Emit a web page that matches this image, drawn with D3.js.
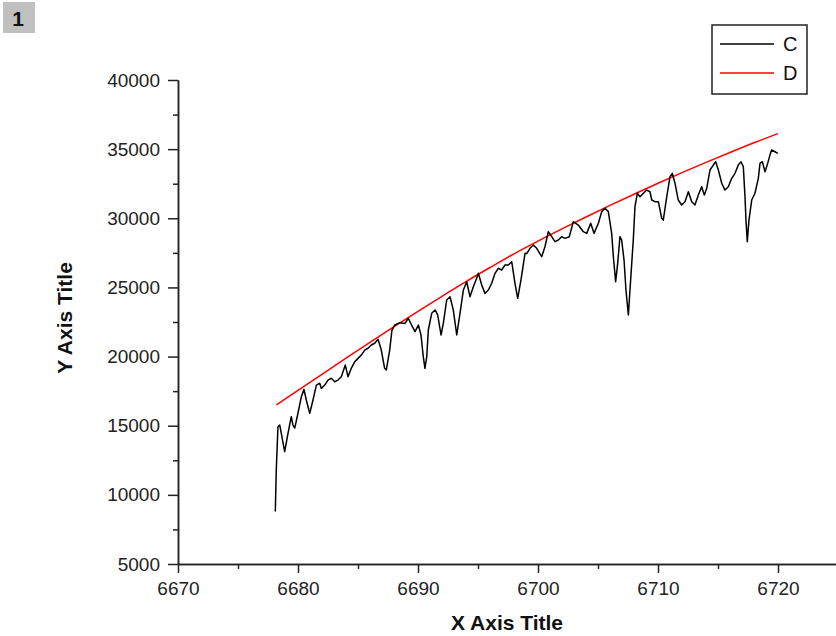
<!DOCTYPE html>
<html>
<head>
<meta charset="utf-8">
<script src="https://cdn.jsdelivr.net/npm/d3@7"></script>
<style>
	body { margin: 0; background: #fff; }
	svg { display: block; font-family: Arial, 'Liberation Sans', sans-serif; }
</style>
</head>
<body>
<div class="svg-container"></div>
<script>
const w = 836;
const h = 636;

// series C (black, measured)
const cX = [6678.11, 6678.19, 6678.33, 6678.48, 6678.89, 6679.17, 6679.44, 6679.58, 6679.73, 6680.0,
	6680.28, 6680.5, 6680.69, 6680.98, 6681.25, 6681.53, 6681.81, 6681.94, 6682.23, 6682.5,
	6682.78, 6683.06, 6683.33, 6683.61, 6683.94, 6684.17, 6684.44, 6684.73, 6685.0, 6685.28,
	6685.56, 6685.83, 6686.11, 6686.39, 6686.67, 6686.94, 6687.22, 6687.36, 6687.64, 6687.83,
	6688.06, 6688.48, 6688.92, 6689.19, 6689.47, 6689.75, 6690.03, 6690.25, 6690.44, 6690.58,
	6690.73, 6690.86, 6691.14, 6691.42, 6691.64, 6691.92, 6692.11, 6692.39, 6692.67, 6692.94,
	6693.23, 6693.5, 6693.78, 6694.06, 6694.33, 6694.61, 6694.89, 6695.03, 6695.31, 6695.58,
	6695.86, 6696.14, 6696.42, 6696.69, 6696.97, 6697.25, 6697.53, 6697.81, 6698.08, 6698.31,
	6698.58, 6698.92, 6699.06, 6699.33, 6699.61, 6699.89, 6700.31, 6700.58, 6700.86, 6701.14,
	6701.42, 6701.69, 6701.97, 6702.25, 6702.61, 6702.94, 6703.36, 6703.78, 6704.06, 6704.39,
	6704.67, 6705.03, 6705.31, 6705.58, 6705.86, 6706.14, 6706.28, 6706.47, 6706.64, 6706.83,
	6706.97, 6707.17, 6707.33, 6707.53, 6707.72, 6707.94, 6708.08, 6708.28, 6708.5, 6708.78,
	6709.06, 6709.33, 6709.48, 6709.75, 6710.03, 6710.31, 6710.44, 6710.73, 6711.0, 6711.19,
	6711.42, 6711.69, 6711.97, 6712.25, 6712.53, 6712.81, 6713.08, 6713.36, 6713.64, 6713.86,
	6714.06, 6714.33, 6714.61, 6714.81, 6715.03, 6715.31, 6715.58, 6715.86, 6716.14, 6716.42,
	6716.69, 6716.92, 6717.11, 6717.25, 6717.33, 6717.44, 6717.58, 6717.81, 6718.08, 6718.36,
	6718.5, 6718.69, 6718.92, 6719.14, 6719.33, 6719.47, 6719.75, 6719.98];
const cY = [8800, 11800, 14930, 15050, 13120, 14470, 15650, 15050, 14830, 15920,
	17100, 17630, 16860, 15900, 16860, 17940, 18070, 17700, 17940, 18300,
	18430, 18180, 18300, 18540, 19390, 18540, 19150, 19630, 19870, 20110,
	20470, 20600, 20840, 20960, 21250, 20470, 19150, 19030, 20470, 21920,
	22280, 22450, 22400, 22770, 22280, 21800, 22280, 21560, 19990, 19150,
	19990, 21920, 23130, 23370, 23010, 21560, 22400, 24090, 24330, 23370,
	21560, 23130, 24810, 25410, 24330, 25050, 25660, 26020, 25170, 24570,
	24810, 25300, 26020, 26380, 26260, 26620, 26620, 26860, 25300, 24210,
	25540, 27470, 27450, 27830, 28070, 27830, 27220, 27940, 29030, 28670,
	28310, 28430, 28670, 28550, 28670, 29750, 29510, 29030, 28910, 29640,
	28910, 29640, 30480, 30720, 30480, 28910, 27220, 25410, 26740, 28670,
	28430, 26980, 24810, 23010, 25540, 28430, 30840, 31810, 31560, 31810,
	32040, 31920, 31320, 31200, 31200, 30000, 29870, 31560, 33010, 33250,
	32530, 31320, 30960, 31200, 31920, 31200, 30960, 31680, 32280, 31680,
	32170, 33490, 33850, 34090, 33490, 32530, 32040, 32280, 32890, 33250,
	33850, 34090, 33730, 31560, 29870, 28310, 29870, 31320, 31810, 32890,
	33970, 34090, 33370, 33970, 34570, 34940, 34810, 34700];

// series D (red, smooth envelope)
const dX = [6678.2, 6680, 6682, 6684, 6686, 6688, 6690, 6692, 6694, 6696, 6698,
	6700, 6702, 6704, 6706, 6708, 6710, 6712, 6714, 6716, 6718, 6720];
const dY = [16500, 17550, 18720, 19880, 21030, 22160, 23270, 24360, 25420, 26440, 27430,
	28350, 29230, 30090, 30930, 31740, 32530, 33300, 34040, 34760, 35460, 36120];

const xTicks = [6670, 6680, 6690, 6700, 6710, 6720];
const xMinorTicks = [6675, 6685, 6695, 6705, 6715];
const yTicks = [5000, 10000, 15000, 20000, 25000, 30000, 35000, 40000];
const yMinorTicks = [7500, 12500, 17500, 22500, 27500, 32500, 37500];

const seriesNames = ['C', 'D'];
const seriesColors = ['#000', '#ff0000'];

const svg = d3
	.select('.svg-container')
	.append('svg')
	.attr('width', w)
	.attr('height', h);

const xScale = d3.scaleLinear().domain([6670, 6725]).range([178, 838]);
const yScale = d3.scaleLinear().domain([5000, 40000]).range([564, 80]);

// panel number box
svg.append('rect')
	.attr('x', 3).attr('y', 2)
	.attr('width', 32).attr('height', 31)
	.attr('fill', '#c0c0c0');
svg.append('text')
	.attr('x', 18).attr('y', 26)
	.style('text-anchor', 'middle')
	.style('font-size', '21px')
	.style('font-weight', 'bold')
	.attr('fill', '#111')
	.text('1');

// axes
const fmt = d3.format('d');
const xAxis = d3.axisBottom(xScale).tickValues(xTicks).tickFormat(fmt).tickSize(9).tickPadding(9).tickSizeOuter(0);
const xAxisMinor = d3.axisBottom(xScale).tickValues(xMinorTicks).tickSize(5).tickFormat('').tickSizeOuter(0);
const yAxis = d3.axisLeft(yScale).tickValues(yTicks).tickFormat(fmt).tickSize(10).tickPadding(8).tickSizeOuter(0);
const yAxisMinor = d3.axisLeft(yScale).tickValues(yMinorTicks).tickSize(5).tickFormat('').tickSizeOuter(0);

function styleAxis(g) {
	g.selectAll('path, line').attr('stroke', '#222').attr('stroke-width', 1.5);
	g.selectAll('text')
		.attr('fill', '#222')
		.style('font-size', '19px')
		.style('font-family', "Arial, 'Liberation Sans', sans-serif");
}

svg.append('g').attr('transform', 'translate(0,564)').call(xAxis).call(styleAxis);
svg.append('g').attr('transform', 'translate(0,564)').call(xAxisMinor).call(styleAxis);
svg.append('g').attr('transform', 'translate(178,0)').call(yAxis).call(styleAxis);
svg.append('g').attr('transform', 'translate(178,0)').call(yAxisMinor).call(styleAxis);

// axis titles
svg.append('text')
	.attr('x', 507).attr('y', 630)
	.style('text-anchor', 'middle')
	.style('font-size', '21px')
	.style('font-weight', 'bold')
	.attr('fill', '#111')
	.text('X Axis Title');

svg.append('text')
	.attr('transform', 'translate(72,318) rotate(-90)')
	.style('text-anchor', 'middle')
	.style('font-size', '21px')
	.style('font-weight', 'bold')
	.attr('fill', '#111')
	.text('Y Axis Title');

// lines
const line = d3.line().x(d => xScale(d[0])).y(d => yScale(d[1]));
const smooth = d3.line().x(d => xScale(d[0])).y(d => yScale(d[1])).curve(d3.curveMonotoneX);

svg.append('path')
	.datum(dX.map((x, i) => [x, dY[i]]))
	.attr('fill', 'none')
	.attr('stroke', seriesColors[1])
	.attr('stroke-width', 1.5)
	.attr('d', smooth);

svg.append('path')
	.datum(cX.map((x, i) => [x, cY[i]]))
	.attr('fill', 'none')
	.attr('stroke', seriesColors[0])
	.attr('stroke-width', 1.5)
	.attr('stroke-linejoin', 'round')
	.attr('d', line);

// legend
const legend = svg.append('g').attr('transform', 'translate(712,25)');
legend.append('rect')
	.attr('width', 95).attr('height', 69)
	.attr('fill', '#fff')
	.attr('stroke', '#222')
	.attr('stroke-width', 1.5);

legend.selectAll('line')
	.data(seriesNames)
	.enter()
	.append('line')
	.attr('x1', 8).attr('x2', 62)
	.attr('y1', (d, i) => 19 + i * 29)
	.attr('y2', (d, i) => 19 + i * 29)
	.attr('stroke', (d, i) => seriesColors[i])
	.attr('stroke-width', 1.5);

legend.selectAll('text')
	.data(seriesNames)
	.enter()
	.append('text')
	.attr('x', 71)
	.attr('y', (d, i) => 19 + i * 29)
	.attr('dy', '0.36em')
	.style('font-size', '20px')
	.attr('fill', '#111')
	.text(d => d);
</script>
</body>
</html>
